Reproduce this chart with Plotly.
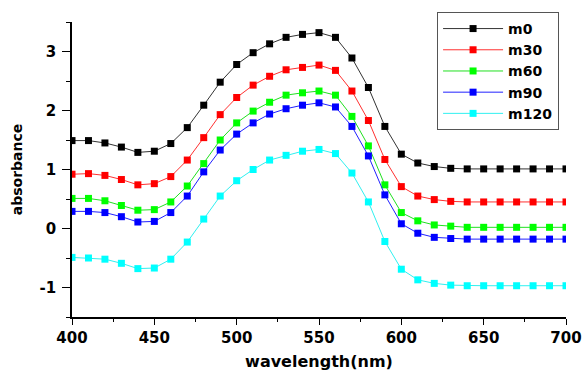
import plotly.graph_objects as go

wavelength = [400, 410, 420, 430, 440, 450, 460, 470, 480, 490, 500, 510, 520, 530, 540, 550,
              560, 570, 580, 590, 600, 610, 620, 630, 640, 650, 660, 670, 680, 690, 700]

m0 = [1.49, 1.49, 1.45, 1.38, 1.29, 1.31, 1.44, 1.71, 2.09, 2.48, 2.78, 2.98, 3.13, 3.24, 3.29, 3.32,
      3.24, 2.89, 2.39, 1.73, 1.26, 1.11, 1.05, 1.02, 1.01, 1.01, 1.01, 1.01, 1.01, 1.01, 1.01]
m30 = [0.92, 0.93, 0.90, 0.83, 0.74, 0.76, 0.88, 1.16, 1.54, 1.93, 2.22, 2.43, 2.58, 2.69, 2.73, 2.77,
       2.68, 2.33, 1.83, 1.17, 0.71, 0.55, 0.49, 0.46, 0.45, 0.45, 0.45, 0.45, 0.45, 0.45, 0.45]
m60 = [0.51, 0.51, 0.47, 0.39, 0.31, 0.32, 0.45, 0.72, 1.10, 1.50, 1.79, 1.99, 2.14, 2.26, 2.30, 2.33,
       2.26, 1.90, 1.40, 0.74, 0.27, 0.13, 0.06, 0.04, 0.02, 0.02, 0.02, 0.02, 0.02, 0.02, 0.02]
m90 = [0.29, 0.29, 0.27, 0.20, 0.11, 0.12, 0.27, 0.55, 0.96, 1.33, 1.60, 1.79, 1.94, 2.03, 2.09, 2.13,
       2.06, 1.73, 1.23, 0.57, 0.08, -0.08, -0.15, -0.17, -0.18, -0.18, -0.18, -0.18, -0.18, -0.18, -0.18]
m120 = [-0.49, -0.50, -0.52, -0.59, -0.68, -0.67, -0.52, -0.23, 0.16, 0.55, 0.81, 1.00, 1.16, 1.24, 1.31, 1.34,
        1.27, 0.94, 0.45, -0.22, -0.69, -0.87, -0.93, -0.96, -0.97, -0.97, -0.97, -0.97, -0.97, -0.97, -0.97]

series_names = ["m0", "m30", "m60", "m90", "m120"]
series_values = [m0, m30, m60, m90, m120]
marker_colors = ["#000000", "#ff0000", "#00ff00", "#0000ff", "#00ffff"]
line_colors = ["#333333", "#ff3030", "#20e020", "#2020ff", "#30f0f0"]

x_tickvals = [400, 450, 500, 550, 600, 650, 700]
y_tickvals = [-1, 0, 1, 2, 3]
y_ticklabels = ["-1", "0", "1", "2", "3"]

FONT = "DejaVu Sans"

fig = go.Figure()
for name, vals, mc, lc in zip(series_names, series_values, marker_colors, line_colors):
    fig.add_trace(go.Scatter(
        x=wavelength, y=vals, name=name, mode="lines+markers",
        line=dict(color=lc, width=1),
        marker=dict(symbol="square", size=7, color=mc, line=dict(width=0)),
    ))

fig.update_layout(
    width=584, height=371,
    margin=dict(l=72, r=18, t=17, b=54),
    paper_bgcolor="white", plot_bgcolor="white",
    font=dict(family=FONT, color="black"),
    legend=dict(
        x=0.739, y=1.034, xanchor="left", yanchor="top",
        bordercolor="#555555", borderwidth=1, bgcolor="white",
        font=dict(family=FONT, size=14, weight="bold"),
        itemwidth=60, tracegroupgap=0,
    ),
    xaxis=dict(
        range=[400, 700], tickvals=x_tickvals, automargin=False,
        showgrid=False, zeroline=False,
        showline=True, linecolor="black", linewidth=1.5,
        ticks="outside", ticklen=6, tickwidth=1.2, tickcolor="black",
        minor=dict(dtick=25, ticks="outside", ticklen=3, tickcolor="black", showgrid=False),
        tickfont=dict(family=FONT, size=15, weight="bold"),
        title=dict(text="wavelength(nm)", font=dict(family=FONT, size=16, weight="bold"), standoff=10),
    ),
    yaxis=dict(
        range=[-1.5, 3.5], tickvals=y_tickvals, ticktext=y_ticklabels, automargin=False,
        showgrid=False, zeroline=False,
        showline=True, linecolor="black", linewidth=1.5,
        ticks="outside", ticklen=8, tickwidth=1.2, tickcolor="black",
        minor=dict(dtick=0.5, ticks="outside", ticklen=4, tickcolor="black", showgrid=False),
        ticklabelstandoff=3,
        tickfont=dict(family=FONT, size=15, weight="bold"),
        title=dict(text="absorbance", font=dict(family=FONT, size=14, weight="bold"), standoff=14),
    ),
)

fig.write_html("out.html", config={"displayModeBar": False},
               post_script="document.body.style.margin='0';")
